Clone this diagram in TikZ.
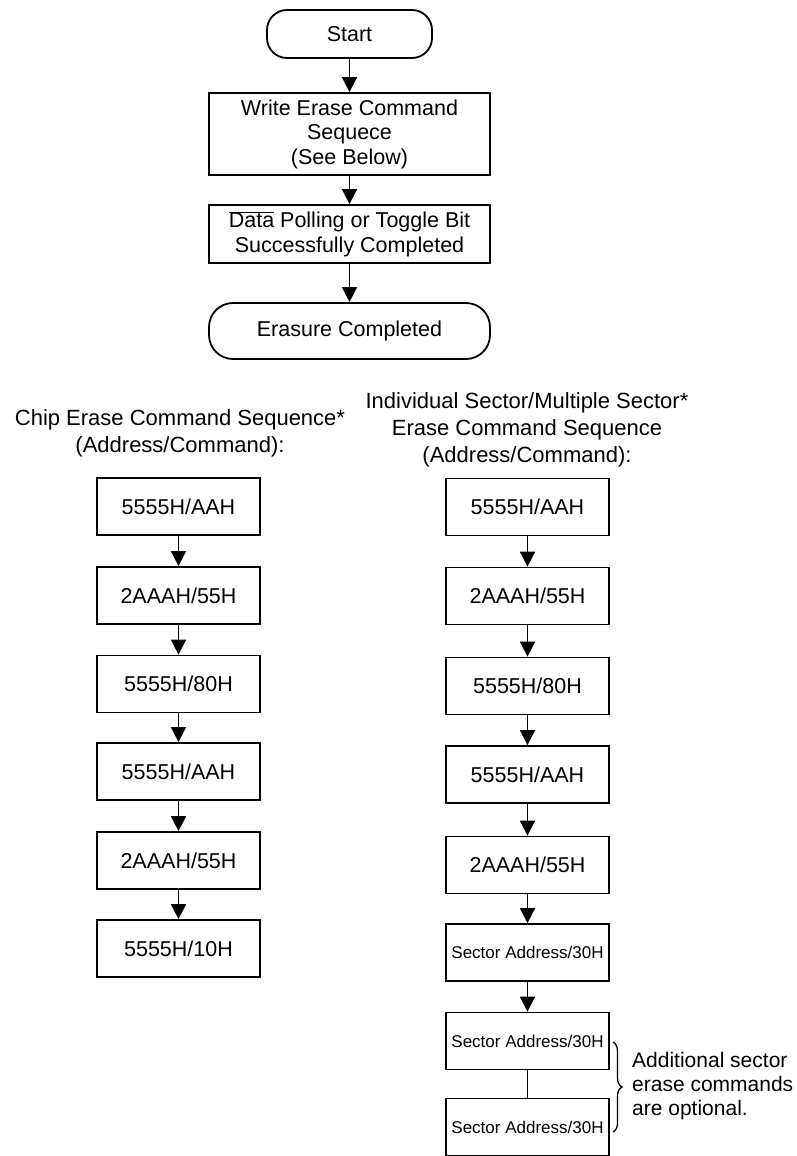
\documentclass[tikz,border=0pt]{standalone}
\usepackage{fontspec}
\setmainfont{Liberation Sans}
\usetikzlibrary{arrows.meta,decorations.pathreplacing}
\begin{document}
\begin{tikzpicture}[x=1pt,y=-1pt,
  every node/.style={inner sep=0pt, align=center, font={\fontsize{21.5}{24.5}\selectfont}},
  box/.style={draw, line width=1.8pt, minimum width=163pt, minimum height=57pt},
  wide/.style={draw, line width=1.8pt, minimum width=281pt},
  smallfont/.style={font={\fontsize{17}{20}\selectfont}},
  titlefont/.style={font={\fontsize{22}{27}\selectfont}},
  arr/.style={line width=1.8pt, -{Triangle[width=15pt,length=15pt]}},
  plain/.style={line width=1.8pt}]
\useasboundingbox (0,0) rectangle (796,1156);
% top flow
\node[draw, line width=1.8pt, minimum width=165pt, minimum height=48pt, rounded corners=20pt] (start) at (349.5,34) {Start};
\node[wide, minimum height=82pt] (write) at (349.5,134) {Write Erase Command\\Sequece\\(See Below)};
\node[wide, minimum height=58pt] (poll) at (349.5,234) {$\overline{\mbox{Data}}$ Polling or Toggle Bit\\Successfully Completed};
\node[wide, minimum height=56pt, rounded corners=24pt] (done) at (349.5,331) {Erasure Completed};
\draw[arr] (start) -- (write);
\draw[arr] (write) -- (poll);
\draw[arr] (poll) -- (done);
% titles
\node[titlefont] (ltitle) at (180,433.5) {Chip Erase Command Sequence*\\(Address/Command):};
\node[titlefont] (rtitle) at (527,430) {Individual Sector/Multiple Sector*\\Erase Command Sequence\\(Address/Command):};
% left column
\node[box] (l1) at (178.5,506.5) {5555H/AAH};
\node[box] (l2) at (178.5,595.5) {2AAAH/55H};
\node[box] (l3) at (178.5,684) {5555H/80H};
\node[box] (l4) at (178.5,771.5) {5555H/AAH};
\node[box] (l5) at (178.5,860.5) {2AAAH/55H};
\node[box] (l6) at (178.5,948.5) {5555H/10H};
\foreach \a/\b in {l1/l2,l2/l3,l3/l4,l4/l5,l5/l6} \draw[arr] (\a) -- (\b);
% right column
\node[box] (r1) at (527.5,507) {5555H/AAH};
\node[box] (r2) at (527.5,596) {2AAAH/55H};
\node[box] (r3) at (527.5,686) {5555H/80H};
\node[box] (r4) at (527.5,774.5) {5555H/AAH};
\node[box] (r5) at (527.5,865) {2AAAH/55H};
\node[box, smallfont] (r6) at (527.5,952.5) {Sector Address/30H};
\node[box, smallfont] (r7) at (527.5,1041) {Sector Address/30H};
\node[box, smallfont] (r8) at (527.5,1127) {Sector Address/30H};
\foreach \a/\b in {r1/r2,r2/r3,r3/r4,r4/r5,r5/r6,r6/r7} \draw[arr] (\a) -- (\b);
\draw[plain] (r7) -- (r8);
% brace
\coordinate (btop) at (613,1042);
\coordinate (bbot) at (613,1132);
\draw[line width=1.3pt, decorate, decoration={brace, amplitude=9pt}] (btop) -- (bbot);
\node[anchor=west, align=left, font={\fontsize{21}{24}\selectfont}] (note) at (632,1086) {Additional sector\\erase commands\\are optional.};
\end{tikzpicture}
\end{document}
